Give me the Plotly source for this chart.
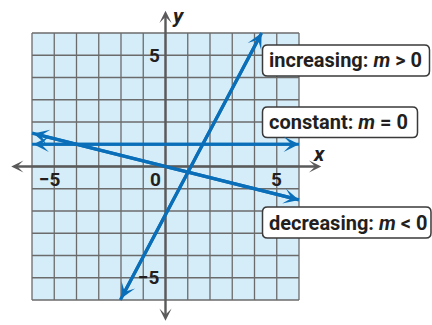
import plotly.graph_objects as go

W, H = 432, 325

# ---- data ----
const_x = [-6, 6]
const_y = [1, 1]
dec_x = [-6, 6]
dec_y = [1.5, -1.5]
inc_x = [-2.03, 4.32]
inc_y = [-6, 6]
axis_span = [-7, 7]
grid_vals = list(range(-6, 7))
x_tick_vals = [-5, 0, 5]
x_tick_labels = ["\u22125", "0", "5"]
y_tick_vals = [5, -5]
y_tick_labels = ["5", "\u22125"]
box_labels = ["increasing: <i>m</i> &gt; 0",
              "constant: <i>m</i> = 0",
              "decreasing: <i>m</i> &lt; 0"]

BLUE = "#0a6fb8"
GRID = "#6b6b6b"
AXIS = "#5a5a5a"
TXT = "#231f20"
BG = "#d5ecf9"
FONT = "Roboto, Liberation Sans, sans-serif"

fig = go.Figure()

# light blue graph paper
shapes = [dict(type="rect", xref="x", yref="y", x0=grid_vals[0], x1=grid_vals[-1],
               y0=grid_vals[0], y1=grid_vals[-1], fillcolor=BG, line=dict(width=0),
               layer="below")]
for g in grid_vals:
    shapes.append(dict(type="line", xref="x", yref="y", x0=g, x1=g,
                       y0=grid_vals[0], y1=grid_vals[-1],
                       line=dict(color=GRID, width=1.3), layer="below"))
    shapes.append(dict(type="line", xref="x", yref="y", y0=g, y1=g,
                       x0=grid_vals[0], x1=grid_vals[-1],
                       line=dict(color=GRID, width=1.3), layer="below"))


def rounded_box(x0, y0, x1, y1, r=5):
    # pixel coords -> paper coords
    def P(px, py):
        return f"{px / W:.5f},{1 - py / H:.5f}"
    d = (f"M {P(x0 + r, y0)} L {P(x1 - r, y0)} Q {P(x1, y0)} {P(x1, y0 + r)} "
         f"L {P(x1, y1 - r)} Q {P(x1, y1)} {P(x1 - r, y1)} "
         f"L {P(x0 + r, y1)} Q {P(x0, y1)} {P(x0, y1 - r)} "
         f"L {P(x0, y0 + r)} Q {P(x0, y0)} {P(x0 + r, y0)} Z")
    return dict(type="path", xref="paper", yref="paper", path=d,
                fillcolor="white", line=dict(color="#3a3a3a", width=1.5))


boxes_px = [(262.5, 45, 429.5, 76), (262.5, 107, 417.5, 137.5), (262.5, 207, 431, 238)]
for b in boxes_px:
    shapes.append(rounded_box(*b))

# blue lines
for xs, ys, nm in [(const_x, const_y, "constant"), (dec_x, dec_y, "decreasing"),
                   (inc_x, inc_y, "increasing")]:
    fig.add_trace(go.Scatter(x=xs, y=ys, mode="lines", name=nm,
                             line=dict(color=BLUE, width=3.2), hoverinfo="skip"))

ann = []
# axes with arrows
ann.append(dict(x=axis_span[1], y=0, ax=axis_span[0], ay=0, xref="x", yref="y",
                axref="x", ayref="y", text="", showarrow=True, arrowside="end+start",
                arrowhead=3, startarrowhead=3, arrowsize=0.85, startarrowsize=0.85,
                arrowwidth=2.4, arrowcolor=AXIS))
ann.append(dict(x=0, y=axis_span[1], ax=0, ay=axis_span[0], xref="x", yref="y",
                axref="x", ayref="y", text="", showarrow=True, arrowside="end+start",
                arrowhead=3, startarrowhead=3, arrowsize=0.85, startarrowsize=0.85,
                arrowwidth=2.4, arrowcolor=AXIS))
# arrowheads on blue lines
for xs, ys in [(const_x, const_y), (dec_x, dec_y), (inc_x, inc_y)]:
    ann.append(dict(x=xs[1], y=ys[1], ax=xs[0], ay=ys[0], xref="x", yref="y",
                    axref="x", ayref="y", text="", showarrow=True, arrowside="end+start",
                    arrowhead=3, startarrowhead=3, arrowsize=0.8, startarrowsize=0.8,
                    arrowwidth=3.2, arrowcolor=BLUE))

tick_font = dict(family=FONT, size=19, color=TXT, weight="bold")
for v, t in zip(x_tick_vals, x_tick_labels):
    ann.append(dict(x=v - 0.45 if v == 0 else (v - 0.2 if v < 0 else v), y=-0.6,
                    xref="x", yref="y", text=t, showarrow=False, font=tick_font,
                    xanchor="center", yanchor="middle"))
for v, t in zip(y_tick_vals, y_tick_labels):
    ann.append(dict(x=-0.15, y=v, xref="x", yref="y", text=t, showarrow=False,
                    font=tick_font, xanchor="right", yanchor="middle"))

lab_font = dict(family=FONT, size=21, color=TXT, weight="bold", style="italic")
ann.append(dict(x=0.6, y=6.75, xref="x", yref="y", text="y", showarrow=False,
                font=lab_font, xanchor="center", yanchor="middle"))
ann.append(dict(x=6.9, y=0.55, xref="x", yref="y", text="x", showarrow=False,
                font=lab_font, xanchor="center", yanchor="middle"))

box_font = dict(family=FONT, size=20, color=TXT, weight="bold")
for (x0, y0, x1, y1), t in zip(boxes_px, box_labels):
    ann.append(dict(x=(x0 + 4) / W, y=1 - (y0 + y1) / 2 / H, xref="paper", yref="paper",
                    text=t, showarrow=False, font=box_font, xanchor="left",
                    yanchor="middle"))

unit = 22.25
cx, cy = 165.5, 166.5
fig.update_layout(
    width=W, height=H, margin=dict(l=0, r=0, t=0, b=0),
    paper_bgcolor="white", plot_bgcolor="white", showlegend=False,
    xaxis=dict(range=[-cx / unit, (W - cx) / unit], visible=False, fixedrange=True),
    yaxis=dict(range=[-(H - cy) / unit, cy / unit], visible=False, fixedrange=True),
    shapes=shapes, annotations=ann,
)

fig.write_html("out.html", config={"displayModeBar": False},
               post_script="document.body.style.margin='0';document.body.style.overflow='hidden';")
